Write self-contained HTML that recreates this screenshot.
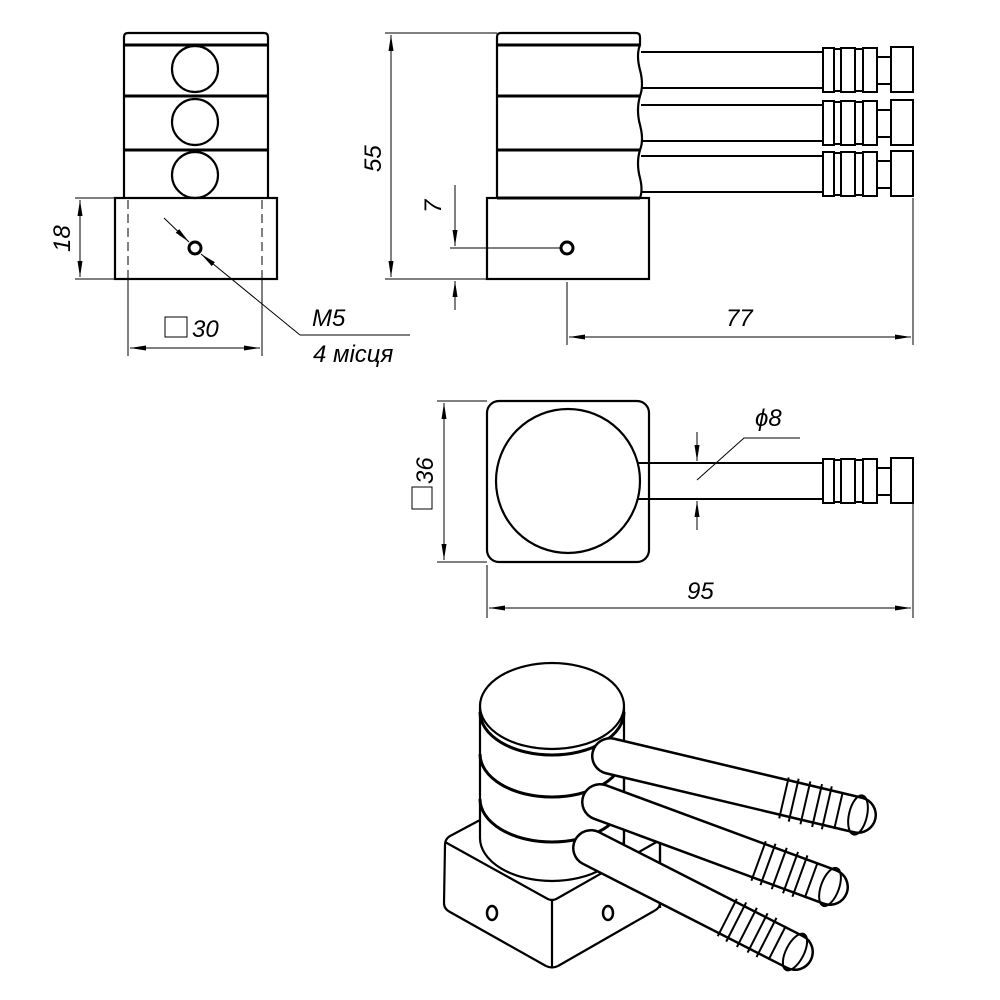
<!DOCTYPE html>
<html><head><meta charset="utf-8"><style>
html,body{margin:0;padding:0;background:#fff}
svg{display:block}
text{font-family:"Liberation Sans",sans-serif;font-style:italic;fill:#000}
</style></head><body>
<svg width="1000" height="1000" viewBox="0 0 1000 1000" xmlns="http://www.w3.org/2000/svg">
<defs>
<marker id="a" viewBox="0 0 16 6" refX="16" refY="3" markerWidth="16" markerHeight="6" markerUnits="userSpaceOnUse" orient="auto-start-reverse"><path d="M0,0.5 L16,3 L0,5.5z" fill="#000"/></marker>
</defs>
<g fill="none" stroke="#000">
<!-- LEFT VIEW -->
<g stroke-width="2.2">
<path d="M124,198 V37 Q124,33 128,33 H264 Q268,33 268,37 V198"/>
<line x1="124" y1="45" x2="268" y2="45" stroke-width="3"/>
<line x1="124" y1="96" x2="268" y2="96" stroke-width="3"/>
<line x1="124" y1="150" x2="268" y2="150" stroke-width="3"/>
<circle cx="195" cy="69" r="23"/><circle cx="195" cy="122" r="23"/><circle cx="195" cy="175" r="23"/>
<rect x="115" y="198" width="162" height="81"/>
<circle cx="195" cy="248" r="6" stroke-width="3"/>
</g>
<g stroke-width="1">
<line x1="128" y1="200" x2="128" y2="278" stroke-dasharray="9,5"/>
<line x1="262" y1="200" x2="262" y2="278" stroke-dasharray="9,5"/>
<line x1="128" y1="279" x2="128" y2="356"/><line x1="262" y1="279" x2="262" y2="356"/>
<line x1="130" y1="348" x2="260" y2="348" marker-start="url(#a)" marker-end="url(#a)"/>
<line x1="75" y1="198" x2="115" y2="198"/><line x1="75" y1="279" x2="115" y2="279"/>
<line x1="80" y1="200" x2="80" y2="277" marker-start="url(#a)" marker-end="url(#a)"/>
<line x1="164" y1="218" x2="189" y2="242" marker-end="url(#a)"/>
<polyline points="300,335 410,335"/>
<line x1="300" y1="335" x2="201" y2="254" marker-end="url(#a)"/>
<rect x="165" y="317" width="22" height="20"/>
<line x1="385" y1="33" x2="497" y2="33"/><line x1="385" y1="279" x2="487" y2="279"/>
<line x1="391" y1="35" x2="391" y2="277" marker-start="url(#a)" marker-end="url(#a)"/>
</g>
<!-- SIDE VIEW -->
<g stroke-width="2.2">
<path d="M497,198 V37 Q497,33 501,33 H636 Q640,33 640,37 V45 Q636,55 640,70 Q644,85 640,96 Q636,110 640,125 Q644,140 640,150 Q636,163 640,178 Q643,190 640,198"/>
<line x1="497" y1="45" x2="640" y2="45" stroke-width="3"/>
<line x1="497" y1="96" x2="640" y2="96" stroke-width="3"/>
<line x1="497" y1="150" x2="640" y2="150" stroke-width="3"/>
<line x1="497" y1="198" x2="640" y2="198" stroke-width="3"/>
<rect x="487" y="198" width="162" height="81"/>
<circle cx="567" cy="248" r="6" stroke-width="3"/>
</g>
<g stroke-width="2">
<g id="r1">
<line x1="641" y1="52" x2="823" y2="52"/><line x1="641" y1="88" x2="823" y2="88"/>
<rect x="823" y="48" width="11" height="44"/><rect x="834" y="49" width="7" height="42"/><rect x="841" y="48" width="14" height="44"/><rect x="855" y="49" width="8" height="42"/><rect x="863" y="48" width="14" height="44"/>
<rect x="877" y="57" width="14" height="27"/><rect x="891" y="47" width="22" height="45"/>
</g>
<use href="#r1" y="53"/>
<use href="#r1" y="104"/>
</g>
<g stroke-width="1">
<line x1="450" y1="248" x2="560" y2="248"/>
<line x1="455" y1="185" x2="455" y2="246" marker-end="url(#a)"/>
<line x1="455" y1="310" x2="455" y2="281" marker-end="url(#a)"/>
<line x1="567" y1="282" x2="567" y2="345"/><line x1="913" y1="198" x2="913" y2="345"/>
<line x1="569" y1="337" x2="911" y2="337" marker-start="url(#a)" marker-end="url(#a)"/>
</g>
<!-- TOP VIEW -->
<g stroke-width="2.2">
<rect x="487" y="401" width="162" height="161" rx="12"/>
<circle cx="568" cy="481" r="72"/>
</g>
<g stroke-width="2">
<line x1="638" y1="463" x2="823" y2="463"/><line x1="638" y1="499" x2="823" y2="499"/>
<g transform="translate(0,411)">
<rect x="823" y="48" width="11" height="44"/><rect x="834" y="49" width="7" height="42"/><rect x="841" y="48" width="14" height="44"/><rect x="855" y="49" width="8" height="42"/><rect x="863" y="48" width="14" height="44"/>
<rect x="877" y="57" width="14" height="27"/><rect x="891" y="47" width="22" height="45"/>
</g>
</g>
<g stroke-width="1">
<line x1="437" y1="401" x2="487" y2="401"/><line x1="437" y1="562" x2="487" y2="562"/>
<line x1="444" y1="403" x2="444" y2="560" marker-start="url(#a)" marker-end="url(#a)"/>
<rect x="412" y="487" width="20" height="22"/>
<line x1="697" y1="432" x2="697" y2="461" marker-end="url(#a)"/>
<line x1="697" y1="530" x2="697" y2="501" marker-end="url(#a)"/>
<polyline points="697,480 744,438 800,438"/>
<line x1="487" y1="565" x2="487" y2="618"/><line x1="913" y1="500" x2="913" y2="618"/>
<line x1="489" y1="608" x2="911" y2="608" marker-start="url(#a)" marker-end="url(#a)"/>
</g>
<!-- ISOMETRIC -->
<g stroke-width="2.2" stroke-linejoin="round">
<path d="M445,845 Q445,838 452,835 L480,820 L630,820 L660,836 V903 Q660,908 654,911 L558,966 Q552,969 546,966 L450,912 Q444,909 444,903 Z" fill="#fff"/>
<path d="M445,842 L546,898 Q552,902 558,898 L660,840"/>
<line x1="552" y1="901" x2="552" y2="967"/>
<ellipse cx="492" cy="913" rx="5" ry="7" stroke-width="2.5"/>
<ellipse cx="608" cy="913" rx="5" ry="7" stroke-width="2.5"/>
<path d="M480,707 V838 A72,43 0 0 0 624,838 V707" fill="#fff"/>
<ellipse cx="552" cy="706" rx="72" ry="43" fill="#fff"/>
<path d="M480,712 A72,43 0 0 0 624,712" stroke-width="3"/>
<path d="M480,754 A72,43 0 0 0 624,754" stroke-width="3"/>
<path d="M480,799 A72,43 0 0 0 624,799" stroke-width="3"/>
<line x1="624" y1="770" x2="624" y2="860"/>
<line x1="660" y1="840" x2="660" y2="908"/>
</g>
<g stroke-linecap="round">
<line x1="610" y1="756" x2="858" y2="815" stroke="#000" stroke-width="38"/>
<line x1="610" y1="756" x2="858" y2="815" stroke="#fff" stroke-width="33"/>
<line x1="600" y1="802" x2="830" y2="887" stroke="#000" stroke-width="38"/>
<line x1="600" y1="802" x2="830" y2="887" stroke="#fff" stroke-width="33"/>
<line x1="591" y1="848" x2="795" y2="952" stroke="#000" stroke-width="38"/>
<line x1="591" y1="848" x2="795" y2="952" stroke="#fff" stroke-width="33"/>
</g>
<g stroke-width="2">
<g transform="translate(858,815) rotate(13)"><ellipse cx="0" cy="0" rx="9" ry="20"/><line x1="-20" y1="-19" x2="-20" y2="19"/><line x1="-32" y1="-22" x2="-32" y2="22"/><line x1="-42" y1="-22" x2="-42" y2="22"/><line x1="-54" y1="-22" x2="-54" y2="22"/><line x1="-66" y1="-22" x2="-66" y2="22"/><line x1="-76" y1="-21" x2="-76" y2="21"/></g>
<g transform="translate(830,887) rotate(20)"><ellipse cx="0" cy="0" rx="9" ry="20"/><line x1="-20" y1="-19" x2="-20" y2="19"/><line x1="-32" y1="-22" x2="-32" y2="22"/><line x1="-42" y1="-22" x2="-42" y2="22"/><line x1="-54" y1="-22" x2="-54" y2="22"/><line x1="-66" y1="-22" x2="-66" y2="22"/><line x1="-76" y1="-21" x2="-76" y2="21"/></g>
<g transform="translate(795,952) rotate(27)"><ellipse cx="0" cy="0" rx="9" ry="20"/><line x1="-20" y1="-19" x2="-20" y2="19"/><line x1="-32" y1="-22" x2="-32" y2="22"/><line x1="-42" y1="-22" x2="-42" y2="22"/><line x1="-54" y1="-22" x2="-54" y2="22"/><line x1="-66" y1="-22" x2="-66" y2="22"/><line x1="-76" y1="-21" x2="-76" y2="21"/></g>
</g>
</g>
<g font-size="24">
<text x="192" y="337">30</text>
<text transform="translate(70,252) rotate(-90)">18</text>
<text x="312" y="326">M5</text>
<text x="313" y="362">4 місця</text>
<text transform="translate(381,172) rotate(-90)">55</text>
<text transform="translate(441,213) rotate(-90)">7</text>
<text x="726" y="326">77</text>
<text transform="translate(433,484) rotate(-90)">36</text>
<text x="755" y="426">ϕ8</text>
<text x="687" y="599">95</text>
</g>
</svg>
</body></html>
